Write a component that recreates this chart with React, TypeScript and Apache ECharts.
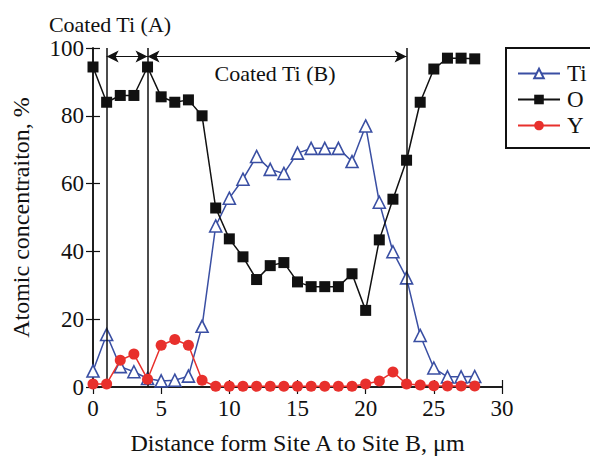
import React, { useEffect, useRef } from "react";
import * as echarts from "echarts";

const xs = [0,1,2,3,4,5,6,7,8,9,10,11,12,13,14,15,16,17,18,19,20,21,22,23,24,25,26,27,28];
const tiValues = [4.7,15.5,6,4.5,2.5,1.8,2,3.2,17.9,47.5,55.7,61.3,68,64.2,63,69,70.4,70.4,70.4,66.5,77,54.5,39.9,32.2,15.2,5.6,3,3,3.1];
const oValues = [94.4,84,86,86,94.4,85.6,84,84.7,80,52.8,43.7,38.4,31.7,35.8,36.7,31,29.6,29.6,29.6,33.4,22.6,43.4,55.4,66.9,84,93.8,97,97,96.8];
const yValues = [0.9,0.9,7.9,9.7,2.3,12.3,14,12.3,2,0.2,0.2,0.2,0.2,0.2,0.2,0.2,0.2,0.2,0.2,0.2,0.9,1.8,4.4,0.9,0.6,0.4,0.3,0.3,0.3];
const boundaries = [1, 4, 23];
const arrowY = 97.5;
const regionA = [1, 4];
const regionB = [4, 23];

const FONT = "Liberation Serif, Times New Roman, serif";

export default function App() {
  const ref = useRef<HTMLDivElement>(null);
  useEffect(() => {
    if (!ref.current) return;
    const chart = echarts.init(ref.current, undefined, { renderer: "svg" });
    const pair = (vals: number[]) => xs.map((x, i) => [x, vals[i]]);
    const axisLine = { show: true, lineStyle: { color: "#111", width: 1.5 } };
    const tick = { show: true, inside: true, length: 7, lineStyle: { color: "#111", width: 1.2 } };
    chart.setOption({
      animation: false,
      backgroundColor: "#fff",
      grid: { left: 93, top: 48, right: 88, bottom: 70, containLabel: false },
      xAxis: [
        {
          type: "value", min: 0, max: 30, interval: 5,
          axisLine, axisTick: tick, splitLine: { show: false },
          axisLabel: { color: "#111", fontFamily: FONT, fontSize: 23, margin: 10 },
          name: "Distance form Site A to Site B, \u03bcm",
          nameLocation: "middle", nameGap: 44,
          nameTextStyle: { color: "#111", fontFamily: FONT, fontSize: 24 },
        },
        {
          type: "value", min: 0, max: 30, interval: 5, position: "top",
          axisLine, axisTick: tick, axisLabel: { show: false }, splitLine: { show: false },
        },
      ],
      yAxis: [
        {
          type: "value", min: 0, max: 100, interval: 20,
          axisLine, axisTick: tick, splitLine: { show: false },
          axisLabel: { color: "#111", fontFamily: FONT, fontSize: 23, margin: 9 },
          name: "Atomic concentraiton, %",
          nameLocation: "middle", nameGap: 60,
          nameTextStyle: { color: "#111", fontFamily: FONT, fontSize: 24 },
        },
        {
          type: "value", min: 0, max: 100, interval: 20, position: "right",
          axisLine, axisTick: tick, axisLabel: { show: false }, splitLine: { show: false },
        },
      ],
      legend: {
        orient: "vertical", left: 512, top: 57, itemWidth: 42, itemHeight: 12, itemGap: 3,
        textStyle: { color: "#111", fontFamily: FONT, fontSize: 23, padding: [0, 0, 0, 2] },
        data: ["Ti", "O", "Y"],
      },
      graphic: [
        { type: "rect", shape: { x: 506, y: 48, width: 100, height: 100 }, style: { fill: "none", stroke: "#111", lineWidth: 2 } },
        { type: "text", x: 110, y: 24, style: { text: "Coated Ti (A)", fill: "#111", fontFamily: FONT, fontSize: 22, align: "center", verticalAlign: "middle" } },
        { type: "text", x: 275, y: 73, style: { text: "Coated Ti (B)", fill: "#111", fontFamily: FONT, fontSize: 22, align: "center", verticalAlign: "middle" } },
      ],
      series: [
        {
          name: "Ti", type: "line", data: pair(tiValues), symbol: "triangle", symbolSize: 12,
          lineStyle: { color: "#3a4fa3", width: 1.5 },
          itemStyle: { color: "#fff", borderColor: "#3a4fa3", borderWidth: 1.6 },
          z: 3,
          markLine: {
            silent: true, symbol: ["none", "none"], label: { show: false },
            lineStyle: { color: "#111", type: "solid", width: 1.5 },
            data: boundaries.map((b) => [{ coord: [b, 0] }, { coord: [b, 100] }]),
          },
        },
        {
          name: "O", type: "line", data: pair(oValues), symbol: "rect", symbolSize: 11,
          lineStyle: { color: "#111", width: 1.5 },
          itemStyle: { color: "#111" },
          z: 4,
          markLine: {
            silent: true, symbol: ["arrow", "arrow"], symbolSize: [9, 12], label: { show: false },
            lineStyle: { color: "#111", type: "solid", width: 1.2 },
            data: [
              [{ coord: [regionA[0], arrowY] }, { coord: [regionA[1], arrowY] }],
              [{ coord: [regionB[0], arrowY] }, { coord: [regionB[1], arrowY] }],
            ],
          },
        },
        {
          name: "Y", type: "line", data: pair(yValues), symbol: "circle", symbolSize: 11,
          lineStyle: { color: "#e8302c", width: 1.5 },
          itemStyle: { color: "#e8302c" },
          z: 5,
        },
      ],
    });
    return () => chart.dispose();
  }, []);
  return <div ref={ref} style={{ position: "fixed", left: 0, top: 0, width: 590, height: 460 }} />;
}
